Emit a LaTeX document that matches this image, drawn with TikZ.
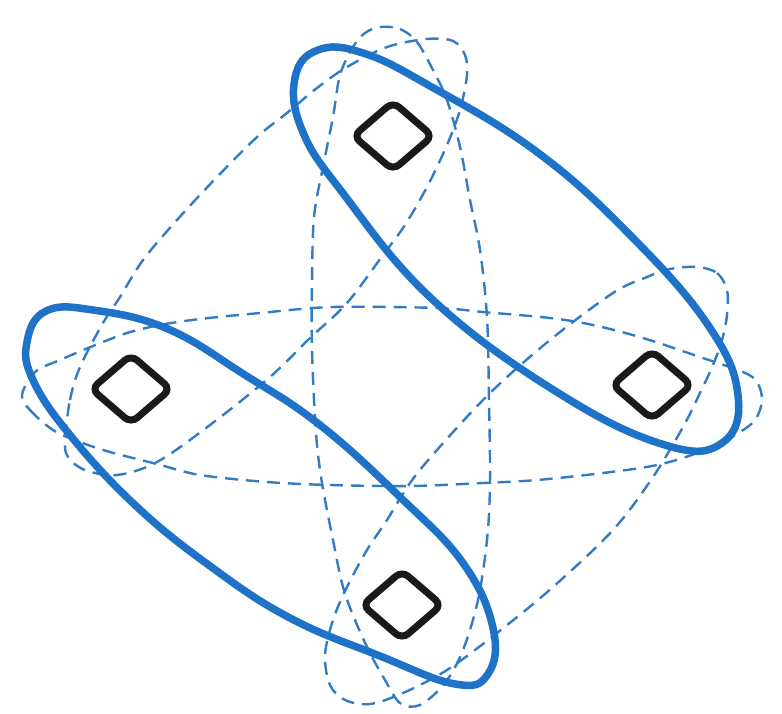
\documentclass[tikz,border=0pt]{standalone}
\usetikzlibrary{shapes.geometric}
\definecolor{solidblue}{RGB}{30,114,200}
\definecolor{dashblue}{RGB}{50,124,198}
\definecolor{inkblack}{RGB}{26,26,26}
\begin{document}
\begin{tikzpicture}[x=1pt,y=-1pt,
  solidloop/.style={draw=solidblue,line width=7.5pt,line join=round},
  dashloop/.style={draw=dashblue,line width=2.4pt,dash pattern=on 13pt off 8pt},
  squarebox/.style={draw=inkblack,diamond,line width=7pt,minimum width=82pt,minimum height=71pt,inner sep=0pt,rounded corners=8pt}]
\useasboundingbox[fill=white] (0,0) rectangle (782,713);
% dashed loops
\draw[dashloop] plot[smooth cycle,tension=0.55] coordinates {(65,440) (70,400) (80,367) (103,323) (120,297) (143,260) (177,220) (217,177) (257,137) (287,113) (317,88) (347,67) (387,47) (427,39) (453,41) (465,55) (467,75) (460,110) (447,145) (427,187) (405,225) (383,255) (347,303) (310,338) (270,377) (210,425) (157,462) (117,475) (85,470) (68,457)};
\draw[dashloop] plot[smooth cycle,tension=0.55] coordinates {(22,395) (30,410) (53,430) (80,442) (110,452) (157,464) (200,475) (267,482) (330,485) (410,486) (483,483) (537,480) (603,473) (657,465) (700,452) (735,435) (755,420) (762,400) (757,382) (743,372) (700,357) (643,338) (593,325) (550,318) (483,312) (437,308) (333,307) (260,313) (200,319) (160,325) (127,333) (93,346) (60,360) (35,372)};
\draw[dashloop] plot[smooth cycle,tension=0.55] coordinates {(380,27) (400,29) (417,42) (433,70) (447,100) (460,147) (470,200) (480,250) (487,317) (489,400) (490,483) (487,540) (478,600) (463,650) (445,683) (420,705) (400,703) (385,680) (370,653) (355,620) (343,587) (333,540) (322,483) (316,433) (312,350) (312,283) (314,217) (323,167) (333,117) (340,75) (353,47) (365,33)};
\draw[dashloop] plot[smooth cycle,tension=0.55] coordinates {(697,267) (717,273) (727,290) (727,315) (722,340) (713,365) (700,393) (683,427) (653,477) (613,530) (553,587) (497,633) (447,670) (403,693) (370,704) (345,700) (330,685) (325,655) (333,620) (347,587) (367,550) (387,520) (410,483) (437,450) (490,393) (550,340) (613,293) (647,277) (670,269)};
% solid loops
\draw[solidloop] plot[smooth cycle,tension=0.7] coordinates {(295,78) (318,50) (363,53) (430,86) (537,152) (630,235) (708,325) (738,395) (722,443) (665,445) (560,394) (433,300) (342,192) (302,130)};
\draw[solidloop] plot[smooth cycle,tension=0.7] coordinates {(27,342) (46,311) (93,310) (168,329) (245,375) (320,425) (400,497) (463,563) (493,628) (488,674) (455,684) (380,656) (290,618) (210,566) (135,505) (70,435) (33,380)};
% squares
\node[squarebox] (top) at (393,136) {};
\node[squarebox] (left) at (131,389) {};
\node[squarebox] (right) at (652,385) {};
\node[squarebox] (bottom) at (402,605) {};
\end{tikzpicture}
\end{document}
